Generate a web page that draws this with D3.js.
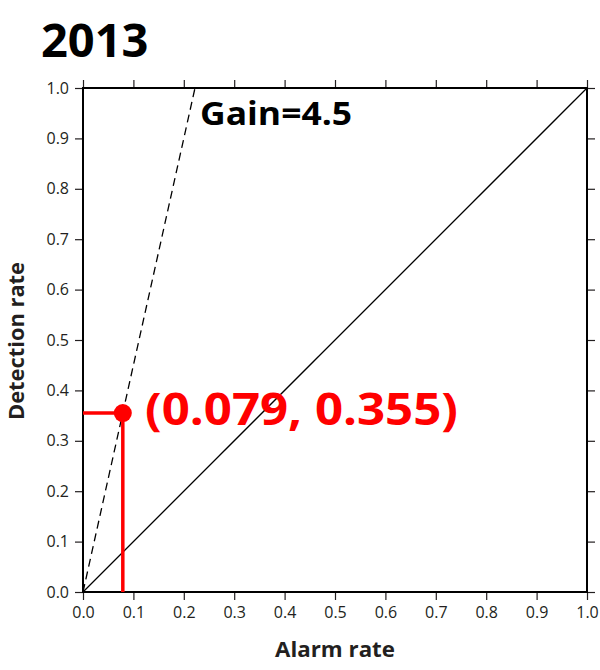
<!DOCTYPE html>
<html><head><meta charset="utf-8">
<script src="https://cdn.jsdelivr.net/npm/d3@7"></script>
<style>body{margin:0;background:#fff}</style>
</head><body>
<script>
const title = "2013";
const pointX = [0.079];
const pointY = [0.355];
const gain = 4.5;
const diagonal = [[0,0],[1,1]];
const ticks = [0,0.1,0.2,0.3,0.4,0.5,0.6,0.7,0.8,0.9,1.0];
const xLabel = "Alarm rate";
const yLabel = "Detection rate";

const W=600,H=670;
const m={l:83,t:88,r:13,b:78};
const svg=d3.select("body").append("svg").attr("width",W).attr("height",H);
const x=d3.scaleLinear().domain([0,1]).range([m.l,W-m.r]);
const y=d3.scaleLinear().domain([0,1]).range([H-m.b,m.t]);
const font="'Open Sans', sans-serif";
const ink="#231f20";

// axes
const fmt=d3.format(".1f");
const gx=svg.append("g").attr("transform",`translate(0,${y(0)})`).call(d3.axisBottom(x).tickValues(ticks).tickFormat(fmt).tickSize(8).tickPadding(7));
const gy=svg.append("g").attr("transform",`translate(${x(0)},0)`).call(d3.axisLeft(y).tickValues(ticks).tickFormat(fmt).tickSize(8).tickPadding(6));
const gt=svg.append("g").attr("transform",`translate(0,${y(1)})`).call(d3.axisTop(x).tickValues(ticks).tickFormat("").tickSize(8));
const gr=svg.append("g").attr("transform",`translate(${x(1)},0)`).call(d3.axisRight(y).tickValues(ticks).tickFormat("").tickSize(8));
[gx,gy,gt,gr].forEach(g=>{
  g.select(".domain").remove();
  g.selectAll(".tick line").attr("stroke",ink).attr("stroke-width",1.2);
  g.selectAll("text").attr("font-family",font).attr("font-size",16).attr("fill",ink);
});
svg.append("rect").attr("x",x(0)).attr("y",y(1)).attr("width",x(1)-x(0)).attr("height",y(0)-y(1))
  .attr("fill","none").attr("stroke","#000").attr("stroke-width",2);

const line=d3.line().x(d=>x(d[0])).y(d=>y(d[1]));
svg.append("path").attr("d",line(diagonal)).attr("stroke","#000").attr("stroke-width",1.3).attr("fill","none");
svg.append("path").attr("d",line([[0,0],[1/gain,1]])).attr("stroke","#000").attr("stroke-width",1.3)
  .attr("stroke-dasharray","8,5").attr("fill","none");

// red markers
const px=pointX[0],py=pointY[0];
svg.append("line").attr("x1",x(0)).attr("x2",x(px)).attr("y1",y(py)).attr("y2",y(py)).attr("stroke","#ff0000").attr("stroke-width",3.5);
svg.append("line").attr("x1",x(px)).attr("x2",x(px)).attr("y1",y(py)).attr("y2",y(0)).attr("stroke","#ff0000").attr("stroke-width",3.5);
svg.append("circle").attr("cx",x(px)).attr("cy",y(py)).attr("r",9).attr("fill","#ff0000");

svg.append("text").attr("x",145).attr("y",y(py)+12).attr("font-family",font).attr("font-weight",700)
  .attr("font-size",45).attr("textLength",313).attr("lengthAdjust","spacingAndGlyphs")
  .attr("fill","#ff0000").text(`(${d3.format(".3f")(px)}, ${d3.format(".3f")(py)})`);
svg.append("text").attr("x",200).attr("y",125).attr("font-family",font).attr("font-weight",700)
  .attr("font-size",32).attr("textLength",152).attr("lengthAdjust","spacingAndGlyphs")
  .attr("fill","#000").text(`Gain=${gain}`);

svg.append("text").attr("x",41).attr("y",57).attr("font-family",font).attr("font-weight",700)
  .attr("font-size",47).attr("fill","#000").text(title);
svg.append("text").attr("x",335).attr("y",657).attr("text-anchor","middle").attr("font-family",font).attr("font-weight",700)
  .attr("font-size",22).attr("textLength",120).attr("lengthAdjust","spacingAndGlyphs").attr("fill",ink).text(xLabel);
svg.append("text").attr("transform",`translate(24,341) rotate(-90)`).attr("text-anchor","middle").attr("font-family",font).attr("font-weight",700)
  .attr("font-size",22).attr("textLength",158).attr("lengthAdjust","spacingAndGlyphs").attr("fill",ink).text(yLabel);
</script>
</body></html>
